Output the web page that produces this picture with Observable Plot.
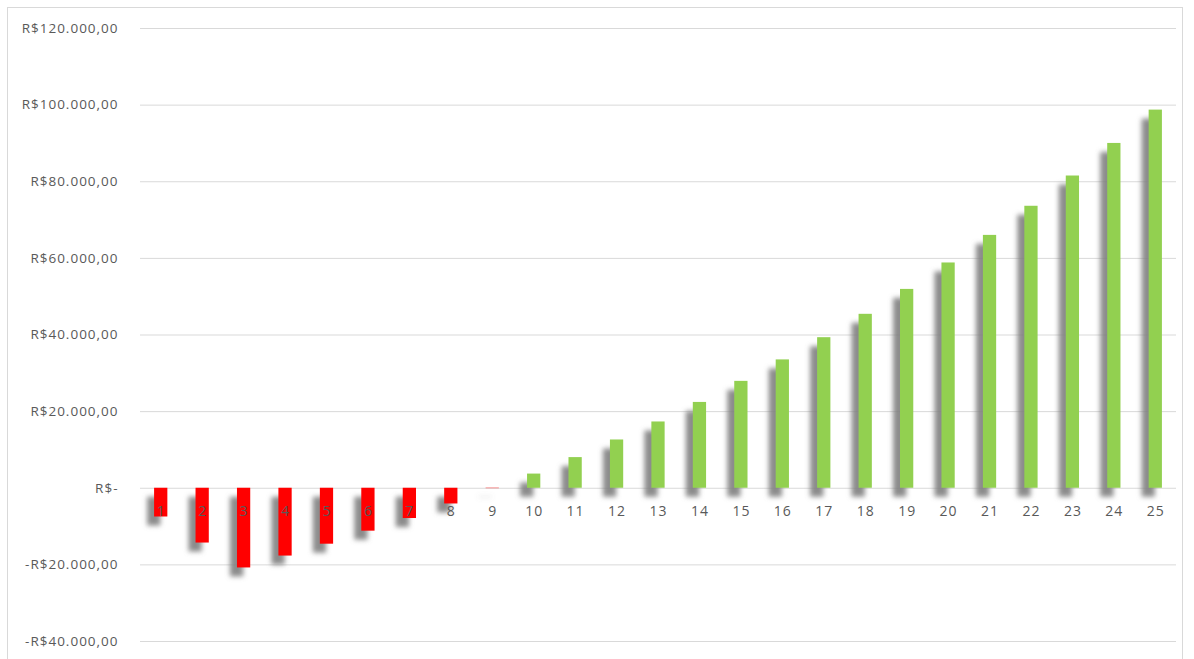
<!DOCTYPE html>
<html>
<head>
<meta charset="utf-8">
<script src="https://cdn.jsdelivr.net/npm/d3@7"></script>
<script src="https://cdn.jsdelivr.net/npm/@observablehq/plot@0.6"></script>
<style>
  html, body { margin: 0; padding: 0; background: #fff; }
  #wrap { position: relative; width: 1194px; height: 659px; overflow: hidden; }
  #border { position: absolute; left: 7px; top: 7px; width: 1176px; height: 700px; border: 1px solid #d9d9d9; box-sizing: border-box; }
  #chart { position: absolute; left: 0; top: 0; }
  #chart text { letter-spacing: 1px; }
</style>
</head>
<body>
<div id="wrap"><div id="border"></div><div id="chart"></div></div>
<script>
const periods = [1,2,3,4,5,6,7,8,9,10,11,12,13,14,15,16,17,18,19,20,21,22,23,24,25];
const balances = [-7500,-14300,-20800,-17700,-14600,-11200,-7900,-4100,-100,3700,8000,12600,17300,22400,27900,33500,39300,45400,51900,58800,66000,73600,81500,90000,98700];
const yTicks = [-40000,-20000,0,20000,40000,60000,80000,100000,120000];
const posColor = "#92d050";
const negColor = "#ff0000";

const table = periods.map((p, i) => ({period: p, value: balances[i]}));

function brl(v) {
  if (v === 0) return "R$-";
  const s = Math.abs(v).toFixed(2).split(".");
  const int = s[0].replace(/\B(?=(\d{3})+(?!\d))/g, ".");
  return (v < 0 ? "-" : "") + "R$" + int + "," + s[1];
}

const font = "'Open Sans', sans-serif";

const chart = Plot.plot({
  width: 1194,
  height: 659,
  marginLeft: 140,
  marginRight: 18,
  marginTop: 28,
  marginBottom: 18,
  style: {fontFamily: font, fontSize: "13.5px", color: "#595959", background: "transparent"},
  x: {type: "band", domain: periods, paddingInner: 0.68, paddingOuter: 0.34, round: false, axis: null},
  y: {domain: [-40000, 120000], axis: null},
  marks: [
    Plot.gridY(yTicks, {stroke: "#d9d9d9", strokeOpacity: 1, strokeWidth: 1}),
    Plot.barY(table, {x: "period", y: "value", fill: "#808080", fillOpacity: 0.9, dx: -7, dy: 9}),
    Plot.barY(table, {x: "period", y: "value", fill: d => d.value < 0 ? negColor : posColor}),
    Plot.axisY(yTicks, {label: null, tickSize: 0, tickPadding: 22, tickFormat: brl, fill: "#595959", fontSize: 13.5}),
    Plot.text(table, {x: "period", y: () => 0, dy: 23, text: d => String(d.period), fill: "#595959", fontSize: 14})
  ]
});

const ns = "http://www.w3.org/2000/svg";
const defs = document.createElementNS(ns, "defs");
const filt = document.createElementNS(ns, "filter");
filt.setAttribute("id", "shadowBlur");
filt.setAttribute("x", "-10%"); filt.setAttribute("y", "-10%");
filt.setAttribute("width", "120%"); filt.setAttribute("height", "120%");
const blur = document.createElementNS(ns, "feGaussianBlur");
blur.setAttribute("stdDeviation", "2.5");
filt.appendChild(blur);
defs.appendChild(filt);
chart.insertBefore(defs, chart.firstChild);
const barGroups = chart.querySelectorAll('g[aria-label="bar"]');
if (barGroups.length) barGroups[0].setAttribute("filter", "url(#shadowBlur)");
document.getElementById("chart").appendChild(chart);
</script>
</body>
</html>
